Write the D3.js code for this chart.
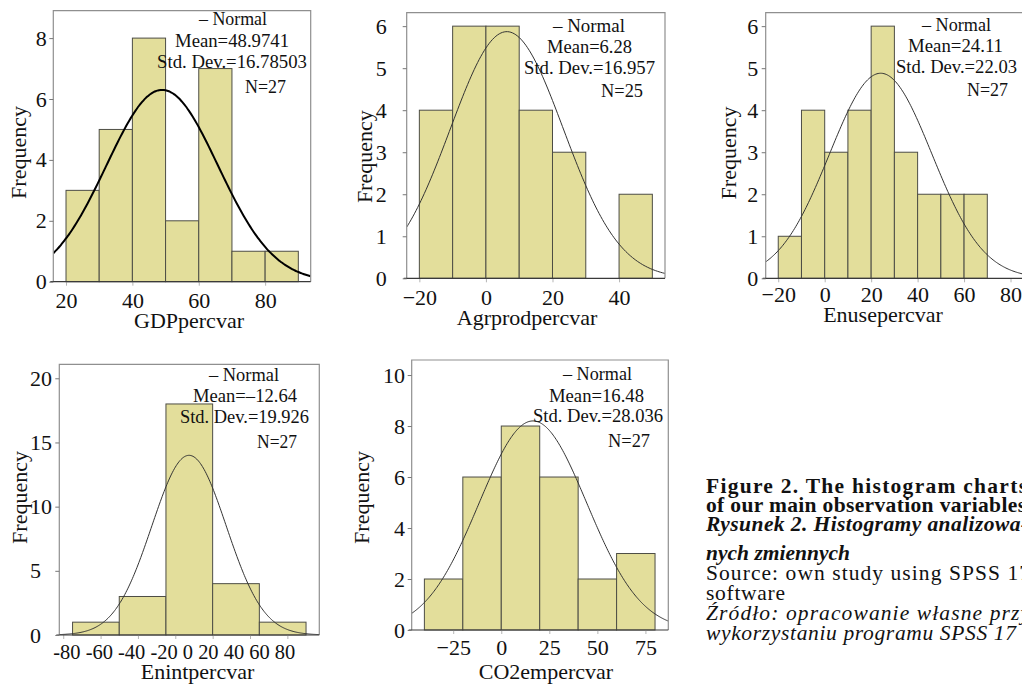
<!DOCTYPE html>
<html>
<head>
<meta charset="utf-8">
<script src="https://cdn.jsdelivr.net/npm/d3@7/dist/d3.min.js"></script>
<style>
	body { margin: 0; background: #fff; }
	svg { display: block; }
	text { font-family: "Liberation Serif", "Times New Roman", serif; fill: #111; }
</style>
</head>
<body>
<div id="chart"></div>
<script>
// histogram bins (edges) and frequencies
var gdpEdges = [20, 30, 40, 50, 60, 70, 80, 90];
var gdpCounts = [3, 5, 8, 2, 7, 1, 1];
var agrEdges = [-20, -10, 0, 10, 20, 30, 40, 50];
var agrCounts = [4, 6, 6, 4, 3, 0, 2];
var enuseEdges = [-20, -10, 0, 10, 20, 30, 40, 50, 60, 70];
var enuseCounts = [1, 4, 3, 4, 6, 3, 2, 2, 2];
var enintEdges = [-75, -50, -25, 0, 25, 50];
var enintCounts = [1, 3, 18, 4, 1];
var co2Edges = [-40, -20, 0, 20, 40, 60, 80];
var co2Counts = [2, 6, 8, 6, 2, 3];

// normal curve legend values
var varNames = ['GDPpercvar', 'Agrprodpercvar', 'Enusepercvar', 'Enintpercvar', 'CO2empercvar'];
var means = [48.9741, 6.28, 24.11, -12.64, 16.48];
var sds = [16.78503, 16.957, 22.03, 19.926, 28.036];
var ns = [27, 25, 27, 27, 27];
var meanLabels = ['48.9741', '6.28', '24.11', '\u201312.64', '16.48'];
var sdLabels = ['16.78503', '16.957', '22.03', '19.926', '28.036'];
var curvePeaks = [6.3, 5.87, 4.88, 14.0, 8.2]; // height of the curve top, as drawn

// ticks
var xTicks = [[20, 40, 60, 80], [-20, 0, 20, 40], [-20, 0, 20, 40, 60, 80], [-80, -60, -40, -20, 0, 20, 40], [-25, 0, 25, 50, 75]];
var enintTickLabels = [-80, -60, -40, -20, 0, 20, 40, 60, 80];
var yTicks = [[0, 2, 4, 6, 8], [0, 1, 2, 3, 4, 5, 6], [0, 1, 2, 3, 4, 5, 6], [0, 5, 10, 15, 20], [0, 2, 4, 6, 8, 10]];

var captionLines = [
	'Figure 2. The histogram charts',
	'of our main observation variables',
	'Rysunek 2. Histogramy analizowa-',
	'nych zmiennych',
	'Source: own study using SPSS 17',
	'software',
	'\u0179r\u00f3d\u0142o: opracowanie w\u0142asne przy',
	'wykorzystaniu programu SPSS 17'
];

// layout of the five panels (box = left, top, right, bottom in px)
var layout = [
	{ box: [53.3, 10.7, 310.7, 281.7], xDom: [16.17, 93.73], yDom: [0, 8.9], xPad: 6.5, yPad: 2.6, curveW: 2, curveC: '#000',
	  title: [189, 328], freq: [26, 152.5],
	  legend: [[199, 25, 68], [175, 46.5, 114], [157, 68, 150], [245, 93, 41]] },
	{ box: [406.7, 12.7, 665, 278.3], xDom: [-23.8, 53.8], yDom: [0, 6.32], xPad: 7, yPad: 16, curveW: 1, curveC: '#333',
	  title: [527, 325], freq: [372, 156.7],
	  legend: [[553, 31.5, 72], [547, 52.5, 85], [524, 73.5, 131], [601, 97, 42]] },
	{ box: [765.7, 12.7, 1024, 278.3], xDom: [-25.4, 85.8], yDom: [0, 6.32], xPad: 4, yPad: 3.4, curveW: 1, curveC: '#333',
	  title: [883, 322], freq: [736, 153],
	  legend: [[922, 31, 69], [908, 52, 95], [896, 73, 121], [967, 96, 41]] },
	{ box: [59.3, 364.3, 319.3, 635], xDom: [-82.1, 57.1], yDom: [0, 21.09], xPad: 6, yPad: 0, curveW: 1, curveC: '#333',
	  title: [197.5, 679], freq: [27, 497.5], yLeft: 30,
	  legend: [[209, 380.5, 70], [193, 401.5, 104], [180, 423, 129], [257, 448, 40]] },
	{ box: [411.7, 360, 668.3, 630], xDom: [-46.6, 86.9], yDom: [0, 10.59], xPad: 5, yPad: 2.7, curveW: 1, curveC: '#333',
	  title: [546, 679], freq: [369, 497.5],
	  legend: [[563, 380, 69], [549, 401.5, 95], [533, 421.5, 130], [608, 446.5, 42]] }
];

var edgesList = [gdpEdges, agrEdges, enuseEdges, enintEdges, co2Edges];
var countsList = [gdpCounts, agrCounts, enuseCounts, enintCounts, co2Counts];

var svg = d3.select('#chart').append('svg')
	.attr('width', 1022)
	.attr('height', 684);

function drawPanel(p, i) {
	var b = p.box;
	var x = d3.scaleLinear().domain(p.xDom).range([b[0], b[2]]);
	var y = d3.scaleLinear().domain(p.yDom).range([b[3], b[1]]);
	var g = svg.append('g');

	svg.append('clipPath').attr('id', 'clip' + i)
		.append('rect')
		.attr('x', b[0]).attr('y', b[1])
		.attr('width', b[2] - b[0]).attr('height', b[3] - b[1]);

	// bars
	var edges = edgesList[i];
	var bins = countsList[i].map(function(c, k) {
		return { x0: edges[k], x1: edges[k + 1], n: c };
	}).filter(function(d) { return d.n > 0; });

	g.selectAll('rect.bar')
		.data(bins)
		.enter().append('rect')
		.attr('class', 'bar')
		.attr('x', function(d) { return x(d.x0); })
		.attr('y', function(d) { return y(d.n); })
		.attr('width', function(d) { return x(d.x1) - x(d.x0); })
		.attr('height', function(d) { return y(0) - y(d.n); })
		.attr('fill', '#e3de9b')
		.attr('stroke', '#4d4d45')
		.attr('stroke-width', 1);

	// normal curve
	var m = means[i], s = sds[i], pk = curvePeaks[i];
	var pts = [p.xDom[0]].concat(x.ticks(200), [p.xDom[1]]);
	var line = d3.line()
		.x(function(v) { return x(v); })
		.y(function(v) { return y(pk * Math.exp(-(v - m) * (v - m) / (2 * s * s))); })
		.curve(d3.curveBasis);
	g.append('path')
		.datum(pts)
		.attr('clip-path', 'url(#clip' + i + ')')
		.attr('d', line)
		.attr('fill', 'none')
		.attr('stroke', p.curveC)
		.attr('stroke-width', p.curveW);

	// frame
	g.append('path')
		.attr('d', 'M' + b[0] + ',' + b[3] + 'V' + b[1] + 'H' + b[2] + 'V' + b[3])
		.attr('fill', 'none')
		.attr('stroke', '#8f8f8f')
		.attr('stroke-width', 1.2);

	// x axis
	var xAxis = d3.axisBottom(x)
		.tickValues(xTicks[i])
		.tickSize(4)
		.tickPadding(p.xPad)
		.tickFormat(d3.format('d'));
	var gx = g.append('g')
		.attr('transform', 'translate(0,' + b[3] + ')')
		.call(xAxis);
	gx.select('.domain').remove();
	gx.selectAll('.tick line').attr('stroke', '#b5b5b5');
	gx.selectAll('.tick text').attr('font-size', 22).attr('fill', '#111')
		.attr('font-family', '"Liberation Serif", serif');
	if (i === 3) gx.selectAll('.tick text').remove();
	g.append('line')
		.attr('x1', b[0] - 3).attr('x2', b[2])
		.attr('y1', b[3]).attr('y2', b[3])
		.attr('stroke', '#3a3a3a').attr('stroke-width', 1.2);

	if (i === 3) {
		// labels for this one sit as a single squeezed row under the axis
		g.append('text')
			.attr('x', 53.3).attr('y', 659)
			.attr('font-size', 21)
			.attr('textLength', 242)
			.attr('lengthAdjust', 'spacingAndGlyphs')
			.text(enintTickLabels.join(' '));
	}

	// y axis
	var yAxis = d3.axisLeft(y)
		.tickValues(yTicks[i])
		.tickSize(4)
		.tickPadding(p.yPad)
		.tickFormat(d3.format('d'));
	var gy = g.append('g')
		.attr('transform', 'translate(' + b[0] + ',0)')
		.call(yAxis);
	gy.select('.domain').remove();
	gy.selectAll('.tick line').attr('stroke', '#777');
	gy.selectAll('.tick text').attr('font-size', 22).attr('fill', '#111')
		.attr('font-family', '"Liberation Serif", serif');
	if (p.yLeft !== undefined) {
		gy.selectAll('.tick text')
			.attr('text-anchor', 'start')
			.attr('x', p.yLeft - b[0]);
	}

	// titles
	g.append('text')
		.attr('x', p.title[0]).attr('y', p.title[1])
		.attr('text-anchor', 'middle')
		.attr('font-size', 22)
		.text(varNames[i]);
	g.append('text')
		.attr('transform', 'translate(' + p.freq[0] + ',' + p.freq[1] + ') rotate(-90)')
		.attr('text-anchor', 'middle')
		.attr('font-size', 22)
		.text('Frequency');

	// legend block
	var legendText = ['\u2013 Normal', 'Mean=' + meanLabels[i], 'Std. Dev.=' + sdLabels[i], 'N=' + ns[i]];
	g.selectAll('text.leg')
		.data(legendText)
		.enter().append('text')
		.attr('class', 'leg')
		.attr('x', function(d, k) { return p.legend[k][0]; })
		.attr('y', function(d, k) { return p.legend[k][1]; })
		.attr('textLength', function(d, k) { return p.legend[k][2]; })
		.attr('lengthAdjust', 'spacingAndGlyphs')
		.attr('font-size', 18)
		.text(function(d) { return d; });
}

layout.forEach(drawPanel);

// caption block at the lower right
var capY = [493, 512, 531, 560, 580, 600, 620, 640];
var capLen = [321, 320, 322, 144, 324, 79, 324, 310];
var capStyle = ['b', 'b', 'bi', 'bi', 'n', 'n', 'i', 'i'];
svg.selectAll('text.cap')
	.data(captionLines)
	.enter().append('text')
	.attr('class', 'cap')
	.attr('x', 706)
	.attr('y', function(d, k) { return capY[k]; })
	.attr('font-size', 21.5)
	.attr('font-family', '"Liberation Serif", serif')
	.attr('font-weight', function(d, k) { return capStyle[k].indexOf('b') >= 0 ? 'bold' : 'normal'; })
	.attr('font-style', function(d, k) { return capStyle[k].indexOf('i') >= 0 ? 'italic' : 'normal'; })
	.attr('textLength', function(d, k) { return capLen[k]; })
	.attr('lengthAdjust', 'spacing')
	.text(function(d) { return d; });
</script>
</body>
</html>
